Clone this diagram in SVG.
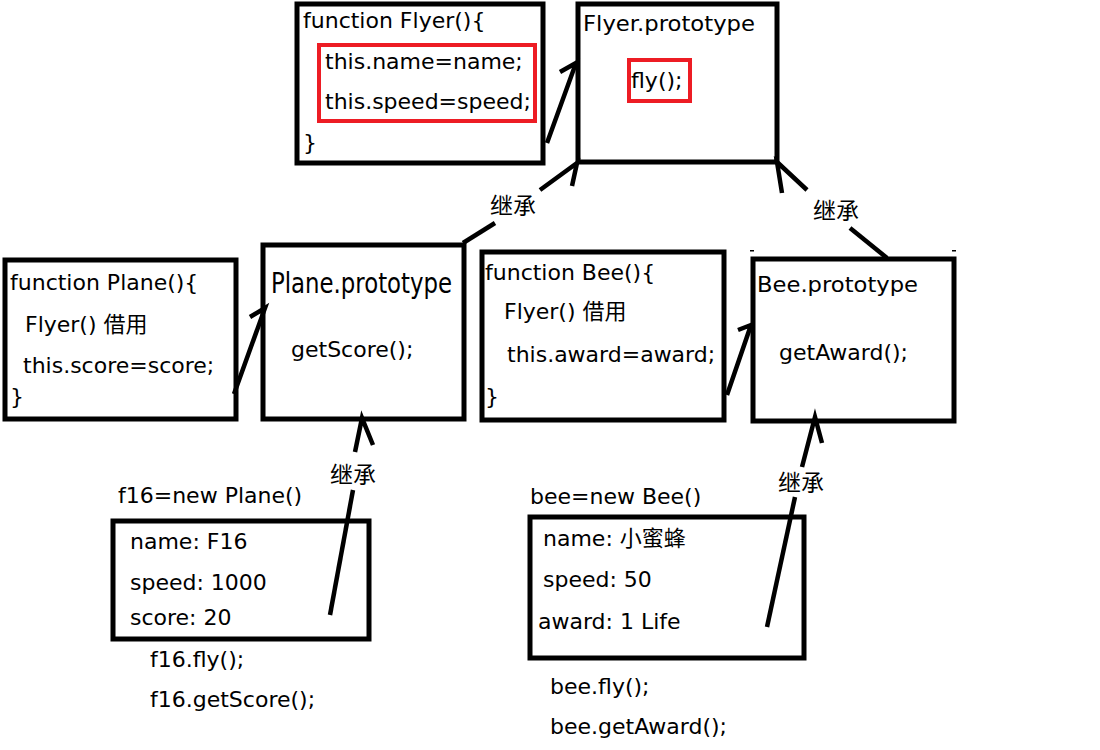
<svg xmlns="http://www.w3.org/2000/svg" width="1100" height="750" viewBox="0 0 1100 750">
<style>
.box{fill:none;stroke:#000;stroke-width:5}
.red{fill:none;stroke:#ed1c24;stroke-width:4}
.t{font-family:"DejaVu Sans","Noto Sans CJK SC",sans-serif;font-size:22px;fill:#000}
.lbl{font-family:"Noto Sans CJK SC",sans-serif;font-size:23px;fill:#000}
.ln{fill:none;stroke:#000;stroke-width:4.5;stroke-linecap:butt;stroke-linejoin:miter}
</style>
<rect width="1100" height="750" fill="#fff"/>
<g id="flyer-fn">
<rect class="box" x="297" y="4" width="246" height="159"/>
<rect class="red" x="319" y="45" width="216" height="76"/>
<text class="t" x="303" y="28">function Flyer(){</text>
<text class="t" x="325" y="69">this.name=name;</text>
<text class="t" x="325" y="109">this.speed=speed;</text>
<text class="t" x="303" y="150">}</text>
</g>
<g id="flyer-proto">
<rect class="box" x="578" y="4" width="199" height="158"/>
<rect class="red" x="629" y="60" width="61" height="41"/>
<text class="t" x="583" y="31" textLength="172" lengthAdjust="spacingAndGlyphs">Flyer.prototype</text>
<text class="t" x="631" y="88">fly();</text>
</g>
<g id="plane-fn">
<rect class="box" x="5" y="260" width="231" height="159"/>
<text class="t" x="10" y="290">function Plane(){</text>
<text class="t" x="25" y="332">Flyer() 借用</text>
<text class="t" x="23" y="373">this.score=score;</text>
<text class="t" x="10" y="404">}</text>
</g>
<g id="plane-proto">
<rect class="box" x="263" y="245" width="201" height="174"/>
<text class="t" x="271" y="293" style="font-size:29px" textLength="181" lengthAdjust="spacingAndGlyphs">Plane.prototype</text>
<text class="t" x="291" y="357">getScore();</text>
</g>
<g id="bee-fn">
<rect class="box" x="482" y="252" width="242" height="168"/>
<text class="t" x="485" y="280">function Bee(){</text>
<text class="t" x="504" y="319">Flyer() 借用</text>
<text class="t" x="507" y="362">this.award=award;</text>
<text class="t" x="485" y="404">}</text>
</g>
<g id="bee-proto">
<rect class="box" x="753" y="259" width="201" height="162"/>
<rect x="750" y="250" width="4" height="1.5" fill="#000"/>
<rect x="952" y="250" width="4" height="1.5" fill="#000"/>
<text class="t" x="757" y="292" textLength="161" lengthAdjust="spacingAndGlyphs">Bee.prototype</text>
<text class="t" x="779" y="360">getAward();</text>
</g>
<g id="f16">
<text class="t" x="118" y="503">f16=new Plane()</text>
<rect class="box" x="113" y="521" width="256" height="118"/>
<text class="t" x="130" y="549">name: F16</text>
<text class="t" x="130" y="590">speed: 1000</text>
<text class="t" x="130" y="625">score: 20</text>
<text class="t" x="150" y="667">f16.fly();</text>
<text class="t" x="150" y="707">f16.getScore();</text>
</g>
<g id="bee">
<text class="t" x="530" y="504">bee=new Bee()</text>
<rect class="box" x="530" y="517" width="274" height="141"/>
<text class="t" x="543" y="546">name: 小蜜蜂</text>
<text class="t" x="543" y="587">speed: 50</text>
<text class="t" x="538" y="629">award: 1 Life</text>
<text class="t" x="550" y="694">bee.fly();</text>
<text class="t" x="550" y="734">bee.getAward();</text>
</g>
<g id="connectors">
<polyline class="ln" points="547,143 576,63 560,72"/>
<polyline class="ln" points="234,394 265,308 250,317"/>
<polyline class="ln" points="727,395 751,325 738,330"/>
<line class="ln" x1="463" y1="243" x2="495" y2="223"/>
<polyline class="ln" points="540,190 577,163 572,186"/>
<line class="ln" x1="887" y1="258" x2="850" y2="228"/>
<polyline class="ln" points="807,190 777,162 782,193"/>
<line class="ln" x1="330" y1="615" x2="353" y2="490"/>
<polyline class="ln" points="355,452 362,418 373,445"/>
<line class="ln" x1="767" y1="627" x2="795" y2="497"/>
<polyline class="ln" points="802,467 815,417 822,443"/>
<text class="lbl" x="490" y="214">继承</text>
<text class="lbl" x="813" y="219">继承</text>
<text class="lbl" x="330" y="483">继承</text>
<text class="lbl" x="778" y="491">继承</text>
</g>
</svg>
